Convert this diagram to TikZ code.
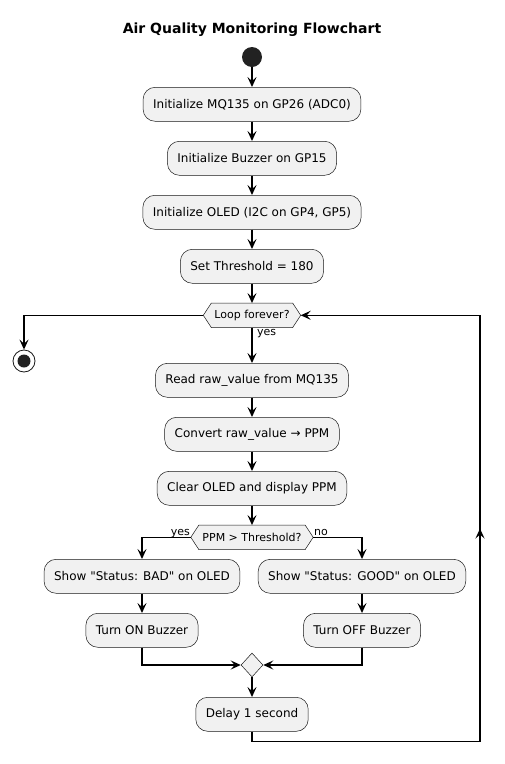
\documentclass[tikz,border=0pt]{standalone}
\usepackage{fontspec}
\setmainfont{DejaVu Sans}[Ligatures=TeXOff]
\usetikzlibrary{arrows.meta,shapes.geometric,calc,backgrounds}
\definecolor{boxfill}{HTML}{F1F1F1}
\definecolor{boxline}{HTML}{181818}
\definecolor{dotc}{HTML}{222222}
\newcommand\hexshape[1]{%
  \draw[hexline] (#1.west) -- ([xshift=8pt]#1.north west) -- ([xshift=-8pt]#1.north east)
    -- (#1.east) -- ([xshift=-8pt]#1.south east) -- ([xshift=8pt]#1.south west) -- cycle;}
\begin{document}
\begin{tikzpicture}[x=1pt,y=-1pt,
  act/.style={rectangle, rounded corners=12pt, draw=boxline, line width=0.5pt, fill=boxfill,
    minimum height=34pt, inner xsep=10pt, inner ysep=0pt, font=\fontsize{12}{14}\selectfont},
  hexnode/.style={rectangle, draw=none, minimum height=24pt, inner sep=0pt,
    font=\fontsize{11}{13}\selectfont},
  hexline/.style={draw=boxline, line width=0.5pt, fill=boxfill},
  lbl/.style={inner sep=0pt, font=\fontsize{11}{13}\selectfont},
  conn/.style={line width=1.5pt, draw=black},
  arr/.style={conn, -{Stealth[length=10pt,width=9pt,inset=4pt]}}
]
\useasboundingbox (0,0) rectangle (504,764);

\node[anchor=base, font=\fontsize{14}{16}\selectfont\bfseries] (title) at (252,33) {Air Quality Monitoring Flowchart};

\node[circle, fill=dotc, minimum size=20pt, inner sep=0pt] (start) at (252,57) {};

\node[act] (init1) at (252,104.3) {Initialize MQ135 on GP26 (ADC0)};
\node[act] (init2) at (252,158.3) {Initialize Buzzer on GP15};
\node[act] (init3) at (252,212.3) {Initialize OLED (I2C on GP4, GP5)};
\node[act] (thr) at (252,266.3) {Set Threshold = 180};

\node[hexnode, minimum width=97pt] (loop) at (252,315.3) {Loop forever?};

\node[circle, draw=boxline, line width=0.8pt, fill=white, minimum size=22pt, inner sep=0pt] (stop) at (24,361) {};
\fill[dotc] (stop.center) circle (6.5);

\node[act] (read) at (252,380.3) {Read raw\_value from MQ135};
\node[act] (conv) at (252,434.3) {Convert raw\_value → PPM};
\node[act] (clear) at (252,488.3) {Clear OLED and display PPM};

\node[hexnode, minimum width=122pt] (dec) at (252,537.3) {PPM > Threshold?};

\node[act] (bad) at (142,576.3) {Show "Status: BAD" on OLED};
\node[act] (good) at (362,576.3) {Show "Status: GOOD" on OLED};
\node[act] (on) at (142,630.3) {Turn ON Buzzer};
\node[act] (off) at (362,630.3) {Turn OFF Buzzer};

\node[diamond, draw=boxline, line width=0.5pt, fill=boxfill, minimum width=22pt, minimum height=24pt, inner sep=0pt] (merge) at (252,665) {};

\node[act] (delay) at (252,714.3) {Delay 1 second};

\begin{scope}[on background layer]
  \hexshape{loop}
  \hexshape{dec}
\end{scope}

\coordinate (c1) at (480,741.7);
\coordinate (c2) at (480,315.3);

\draw[arr] (start) -- (init1);
\draw[arr] (init1) -- (init2);
\draw[arr] (init2) -- (init3);
\draw[arr] (init3) -- (thr);
\draw[arr] (thr) -- (loop);
\draw[arr] (loop.west) -| (stop.north);
\draw[arr] (loop.south) -- (read.north);
\node[lbl, anchor=base west] (yes1) at (257,335.5) {yes};
\draw[arr] (read) -- (conv);
\draw[arr] (conv) -- (clear);
\draw[arr] (clear) -- (dec.north);
\draw[arr] (dec.west) -| (bad.north);
\draw[arr] (dec.east) -| (good.north);
\node[lbl, anchor=base east] (yes2) at (190,535) {yes};
\node[lbl, anchor=base west] (no) at (314,535) {no};
\draw[arr] (bad) -- (on);
\draw[arr] (good) -- (off);
\draw[arr] (on.south) |- (merge.west);
\draw[arr] (off.south) |- (merge.east);
\draw[arr] (merge.south) -- (delay.north);
\draw[arr] (delay.south) |- (c1) -- (c2) -- (loop.east);
\draw[arr] (c1) -- ($(c1)!0.5!(c2)$);
\end{tikzpicture}
\end{document}
